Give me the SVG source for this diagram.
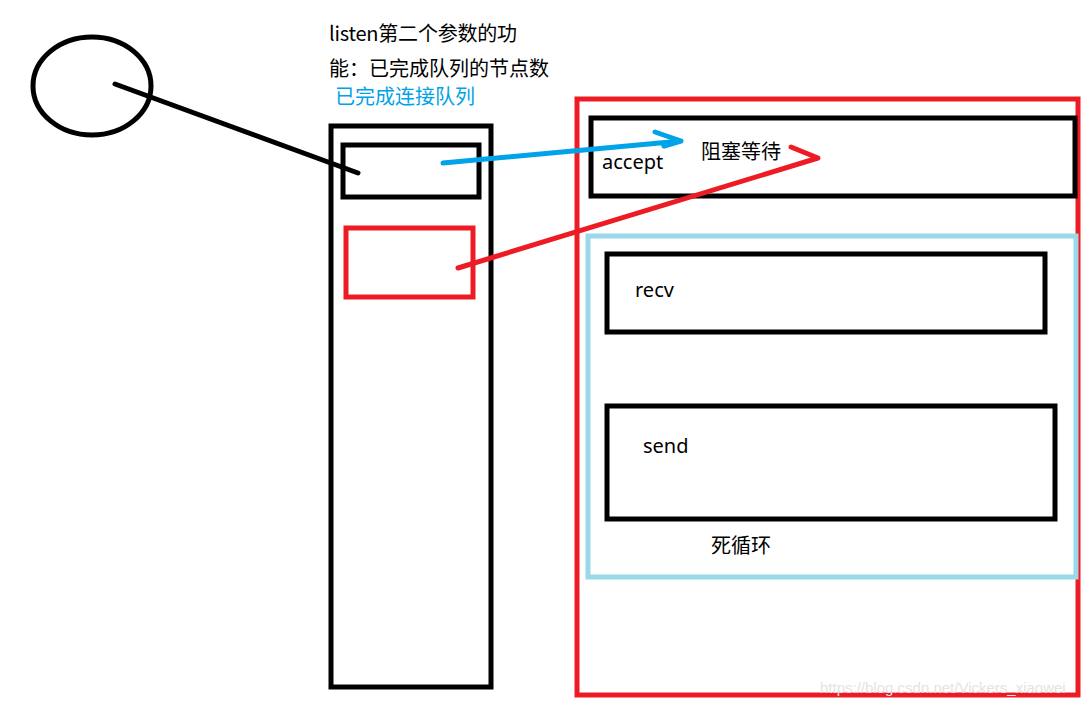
<svg xmlns="http://www.w3.org/2000/svg" width="1090" height="707" viewBox="0 0 1090 707">
<style>
.k{fill:none;stroke:#000;stroke-width:5}
.r{fill:none;stroke:#ED1C24;stroke-width:5}
.b{fill:none;stroke:#99D9EA;stroke-width:5}
.t{font-family:"Noto Sans","Noto Sans CJK SC",sans-serif;font-size:20px;fill:#000}
.c{font-family:"Noto Sans CJK SC","Noto Sans",sans-serif;font-size:20px;fill:#000}
</style>
<rect width="1090" height="707" fill="#fff"/>
<g id="server-box"><rect class="r" x="577" y="99" width="501" height="596"/></g>
<g id="accept"><rect class="k" x="591" y="118" width="484" height="78"/><text class="t" x="602" y="169">accept</text><text class="c" x="701" y="159">阻塞等待</text></g>
<g id="loop"><rect class="b" x="588" y="236" width="488" height="341"/><text class="c" x="711" y="553">死循环</text></g>
<g id="recv"><rect class="k" x="607" y="254" width="438" height="78"/><text class="t" x="635" y="297">recv</text></g>
<g id="send"><rect class="k" x="607" y="406" width="448" height="113"/><text class="t" x="643" y="453">send</text></g>
<g id="queue"><rect class="k" x="331" y="126" width="160" height="561"/></g>
<g id="slot1"><rect class="k" x="343" y="145" width="136" height="52"/></g>
<g id="slot2"><rect class="r" x="346" y="228" width="127" height="69"/></g>
<g id="socket"><ellipse class="k" cx="92" cy="86" rx="59" ry="49"/></g>
<g id="label"><text class="c" x="329" y="41" textLength="188">listen第二个参数的功</text><text class="c" x="329" y="76">能：已完成队列的节点数</text><text class="c" x="335" y="104" style="fill:#00A2E8">已完成连接队列</text></g>
<g id="connectors" fill="none" stroke-linecap="round" stroke-linejoin="round">
<path d="M115 84 L358 173" stroke="#000" stroke-width="5"/>
<path d="M443 163 L681 141 M655 132 L681 141 L664 146" stroke="#00A2E8" stroke-width="5"/>
<path d="M458 268 L818 158 L791 147" stroke="#ED1C24" stroke-width="5"/>
</g>
<text x="820" y="693" style="font-family:'Liberation Sans',sans-serif;font-size:15px;fill:#e4e4e4">https://blog.csdn.net/Vickers_xiaowei</text>
</svg>
